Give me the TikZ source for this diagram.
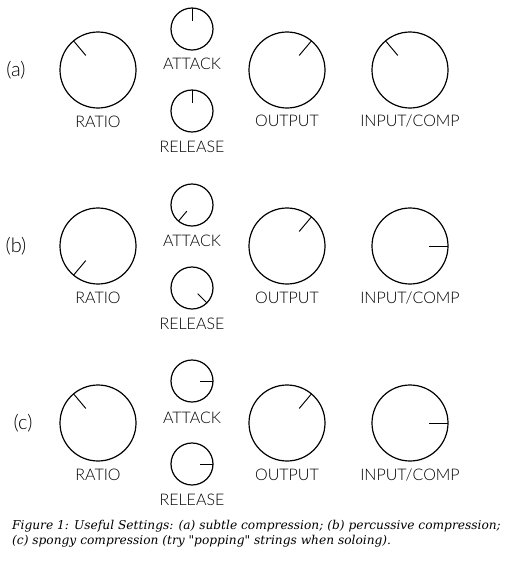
\documentclass[tikz,border=0pt]{standalone}
\usepackage{fontspec}
\newfontfamily\knobfont{Lato}[UprightFont=* Light]
\newfontfamily\capfont{DejaVu Serif}
\usetikzlibrary{calc}
\tikzset{
  bigknob/.style={circle,draw,line width=1.2pt,minimum size=76pt,inner sep=0pt,outer sep=0pt},
  smallknob/.style={circle,draw,line width=1.2pt,minimum size=42pt,inner sep=0pt,outer sep=0pt},
  pointer/.style={line width=0.95pt},
  knoblabel/.style={anchor=base,inner sep=0pt,font=\knobfont\fontsize{16}{16}\selectfont},
  rowlabel/.style={inner sep=0pt,font=\knobfont\fontsize{20}{20}\selectfont},
  captionline/.style={anchor=base west,inner sep=0pt,font=\capfont\itshape\fontsize{12.2}{14}\selectfont},
}
\begin{document}
\begin{tikzpicture}[x=1pt,y=-1pt]
	\useasboundingbox (0,0) rectangle (513,566);
	% row (a)
	\node[rowlabel] (rowA) at (16,70) {(a)};
	\node[bigknob] (ratioA) at (98,70) {};
	\node[smallknob] (attackA) at (192,29) {};
	\node[smallknob] (releaseA) at (192,111) {};
	\node[bigknob] (outputA) at (287,70) {};
	\node[bigknob] (inputA) at (410,70) {};
	\draw[pointer] (ratioA.130) -- ($(ratioA)!0.5!(ratioA.130)$);
	\draw[pointer] (attackA.90) -- ($(attackA)!0.36!(attackA.90)$);
	\draw[pointer] (releaseA.90) -- ($(releaseA)!0.36!(releaseA.90)$);
	\draw[pointer] (outputA.50) -- ($(outputA)!0.5!(outputA.50)$);
	\draw[pointer] (inputA.130) -- ($(inputA)!0.5!(inputA.130)$);
	\node[knoblabel] (ratioAtxt) at (98,127) {RATIO};
	\node[knoblabel] (attackAtxt) at (192,69) {ATTACK};
	\node[knoblabel] (releaseAtxt) at (192,152) {RELEASE};
	\node[knoblabel] (outputAtxt) at (287,126) {OUTPUT};
	\node[knoblabel] (inputAtxt) at (410,126) {INPUT/COMP};
	% row (b)
	\node[rowlabel] (rowB) at (16,246) {(b)};
	\node[bigknob] (ratioB) at (98,246) {};
	\node[smallknob] (attackB) at (192,205) {};
	\node[smallknob] (releaseB) at (192,288) {};
	\node[bigknob] (outputB) at (287,246) {};
	\node[bigknob] (inputB) at (410,246) {};
	\draw[pointer] (ratioB.230) -- ($(ratioB)!0.5!(ratioB.230)$);
	\draw[pointer] (attackB.230) -- ($(attackB)!0.38!(attackB.230)$);
	\draw[pointer] (releaseB.-45) -- ($(releaseB)!0.38!(releaseB.-45)$);
	\draw[pointer] (outputB.50) -- ($(outputB)!0.5!(outputB.50)$);
	\draw[pointer] (inputB.0) -- ($(inputB)!0.5!(inputB.0)$);
	\node[knoblabel] (ratioBtxt) at (98,303) {RATIO};
	\node[knoblabel] (attackBtxt) at (192,246) {ATTACK};
	\node[knoblabel] (releaseBtxt) at (192,329) {RELEASE};
	\node[knoblabel] (outputBtxt) at (287,303) {OUTPUT};
	\node[knoblabel] (inputBtxt) at (410,303) {INPUT/COMP};
	% row (c)
	\node[rowlabel] (rowC) at (23,423) {(c)};
	\node[bigknob] (ratioC) at (98,423) {};
	\node[smallknob] (attackC) at (192,381) {};
	\node[smallknob] (releaseC) at (192,464) {};
	\node[bigknob] (outputC) at (287,423) {};
	\node[bigknob] (inputC) at (410,423) {};
	\draw[pointer] (ratioC.130) -- ($(ratioC)!0.5!(ratioC.130)$);
	\draw[pointer] (attackC.0) -- ($(attackC)!0.38!(attackC.0)$);
	\draw[pointer] (releaseC.0) -- ($(releaseC)!0.38!(releaseC.0)$);
	\draw[pointer] (outputC.50) -- ($(outputC)!0.5!(outputC.50)$);
	\draw[pointer] (inputC.0) -- ($(inputC)!0.5!(inputC.0)$);
	\node[knoblabel] (ratioCtxt) at (98,480) {RATIO};
	\node[knoblabel] (attackCtxt) at (192,423) {ATTACK};
	\node[knoblabel] (releaseCtxt) at (192,505) {RELEASE};
	\node[knoblabel] (outputCtxt) at (287,480) {OUTPUT};
	\node[knoblabel] (inputCtxt) at (410,480) {INPUT/COMP};
	% caption
	\node[captionline] (cap1) at (12,529) {Figure 1: Useful Settings: (a) subtle compression; (b) percussive compression;};
	\node[captionline] (cap2) at (12,544) {(c) spongy compression (try "popping" strings when soloing).};
\end{tikzpicture}
\end{document}
